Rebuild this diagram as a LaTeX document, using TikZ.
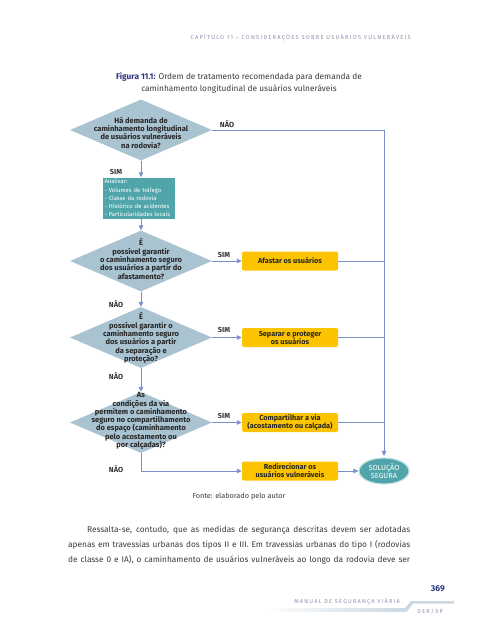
\documentclass[tikz,border=0pt]{standalone}
\usepackage{fontspec}
\setmainfont{Fira Sans}
\newfontfamily\spacedfont[LetterSpace=22]{Fira Sans}
\usetikzlibrary{positioning}
\usetikzlibrary{shapes.geometric}
\usetikzlibrary{arrows.meta}

\definecolor{qblue}{HTML}{A9C3D1}
\definecolor{tealbox}{HTML}{4FA5A9}
\definecolor{yellowbox}{HTML}{FCC400}
\definecolor{flowline}{HTML}{7A8DCC}
\definecolor{navy}{HTML}{2A3580}
\definecolor{headgray}{HTML}{8B90AE}
\definecolor{bodytext}{HTML}{3A3A3A}
\definecolor{swoosh}{HTML}{CBD8E2}

\begin{document}
\begin{tikzpicture}[x=1pt, y=-1pt,
    decision/.style={shape=diamond, fill=qblue, minimum width=142pt, minimum height=61pt, inner sep=0pt},
    qtext/.style={align=center, inner sep=0pt, text=black!85, font=\fontsize{7.5}{8.3}\selectfont\bfseries},
    action/.style={rectangle, rounded corners=2pt, fill=yellowbox, minimum width=96pt, minimum height=19pt, inner sep=0pt, align=center, text=black!85, font=\fontsize{7.3}{8}\selectfont\bfseries},
    answer/.style={inner sep=0pt, text=black!80, font=\fontsize{7.3}{8}\selectfont\bfseries},
    flow/.style={draw=flowline, line width=0.9pt},
    arrow/.style={flow, -{Triangle[length=5pt, width=4.5pt]}},
    bodyline/.style={anchor=west, inner sep=0pt, text=bodytext, font=\fontsize{8.3}{9}\selectfont}]
    \useasboundingbox (0,0) rectangle (479,640);

    % header and caption
    \node[anchor=east, inner sep=0pt, text=headgray, font=\fontsize{5.7}{6.5}\spacedfont] (head) at (411,38) {CAPÍTULO 11 – CONSIDERAÇÕES SOBRE USUÁRIOS VULNERÁVEIS};
    \node[align=center, inner sep=0pt, text=bodytext, font=\fontsize{8.3}{11.5}\selectfont] (caption) at (239,83)
        {{\color{navy}\bfseries Figura 11.1:} Ordem de tratamento recomendada para demanda de\\caminhamento longitudinal de usuários vulneráveis};

    % questions
    \node[decision] (q1) at (141,130) {};
    \node[decision] (q2) at (141,261) {};
    \node[decision] (q3) at (141,337.5) {};
    \node[decision] (q4) at (141,422.5) {};
    \node[qtext] (q1t) at (141,132.5) {Há demanda de\\caminhamento longitudinal\\de usuários vulneráveis\\na rodovia?};
    \node[qtext] (q2t) at (141,259) {É\\possível garantir\\o caminhamento seguro\\dos usuários a partir do\\afastamento?};
    \node[qtext] (q3t) at (141,338) {É\\possível garantir o\\caminhamento seguro\\dos usuários a partir\\da separação e\\proteção?};
    \node[qtext] (q4t) at (141,421) {As\\condições da via\\permitem o caminhamento\\seguro no compartilhamento\\do espaço (caminhamento\\pelo acostamento ou\\por calçadas)?};

    % analysis box
    \node[rectangle, fill=tealbox, text=white, text width=69pt, inner xsep=1.5pt, inner ysep=0pt, minimum height=41pt, align=left, font=\fontsize{5.9}{8.2}\selectfont] (an) at (139,198)
        {\mbox{Analisar:}\\\mbox{- Volumes de tráfego}\\\mbox{- Classe da rodovia}\\\mbox{- Histórico de acidentes}\\\mbox{- Particularidades locais}};

    % actions
    \node[action] (a1) at (290,261) {Afastar os usuários};
    \node[action] (a2) at (290,337.5) {Separar e proteger\\os usuários};
    \node[action] (a3) at (290,422.5) {Compartilhar a via\\(acostamento ou calçada)};
    \node[action] (a4) at (290,471) {Redirecionar os\\usuários vulneráveis};
    \node[ellipse, fill=tealbox, draw=tealbox!35, line width=1.2pt, minimum width=50pt, minimum height=26pt, inner sep=0pt, align=center, text=white, font=\fontsize{7.4}{8}\selectfont] (sol) at (384,471) {SOLUÇÃO\\SEGURA};

    % answers
    \node[answer] (n1) at (227,124) {NÃO};
    \node[answer] (s1) at (116,172) {SIM};
    \node[answer] (s2) at (224,255) {SIM};
    \node[answer] (n2) at (116,304) {NÃO};
    \node[answer] (s3) at (224,330) {SIM};
    \node[answer] (n3) at (116,376) {NÃO};
    \node[answer] (s4) at (224,416) {SIM};
    \node[answer] (n4) at (116,469) {NÃO};

    % connectors
    \draw[arrow] (q1.south) -- (an.north -| q1.south);
    \draw[arrow] (an.south -| q2.north) -- (q2.north);
    \draw[arrow] (q2.south) -- (q3.north);
    \draw[arrow] (q3.south) -- (q4.north);
    \draw[arrow] (q2.east) -- (a1.west);
    \draw[arrow] (q3.east) -- (a2.west);
    \draw[arrow] (q4.east) -- (a3.west);
    \draw[arrow] (q4.south) |- (a4.west);
    \draw[arrow] (a4.east) -- (sol.west);
    \draw[arrow, shorten >=1.5pt] (q1.east) -| (sol.north);
    \draw[flow] (a1.east) -- (a1.east -| sol.north);
    \draw[flow] (a2.east) -- (a2.east -| sol.north);
    \draw[flow] (a3.east) -- (a3.east -| sol.north);

    % source and body text
    \node[inner sep=0pt, text=bodytext, font=\fontsize{7.3}{8}\selectfont] (src) at (239,497) {Fonte: elaborado pelo autor};
    \node[bodyline] (p1) at (87,530) {\makebox[323pt][s]{Ressalta-se, contudo, que as medidas de segurança descritas devem ser adotadas}};
    \node[bodyline] (p2) at (68,545) {\makebox[342pt][s]{apenas em travessias urbanas dos tipos II e III. Em travessias urbanas do tipo I (rodovias}};
    \node[bodyline] (p3) at (68,560) {\makebox[342pt][s]{de classe 0 e IA), o caminhamento de usuários vulneráveis ao longo da rodovia deve ser}};

    % footer
    \fill[left color=white, right color=swoosh] (263,608) rectangle (405,611.5);
    \fill[swoosh] (405,608) -- (411,601) -- (454,601) -- (454,603.5) -- (413,603.5) -- (407,611.5) -- (405,611.5) -- cycle;
    \node[anchor=east, inner sep=0pt, text=navy, font=\fontsize{8.5}{10}\selectfont\bfseries] (page) at (445,589) {369};
    \node[anchor=east, inner sep=0pt, text=headgray, font=\fontsize{5.6}{6.5}\spacedfont] (manual) at (400,602) {MANUAL DE SEGURANÇA VIÁRIA};
    \node[anchor=east, inner sep=0pt, text=headgray, font=\fontsize{5.6}{6.5}\spacedfont] (der) at (443,612) {DER/SP};
\end{tikzpicture}
\end{document}
